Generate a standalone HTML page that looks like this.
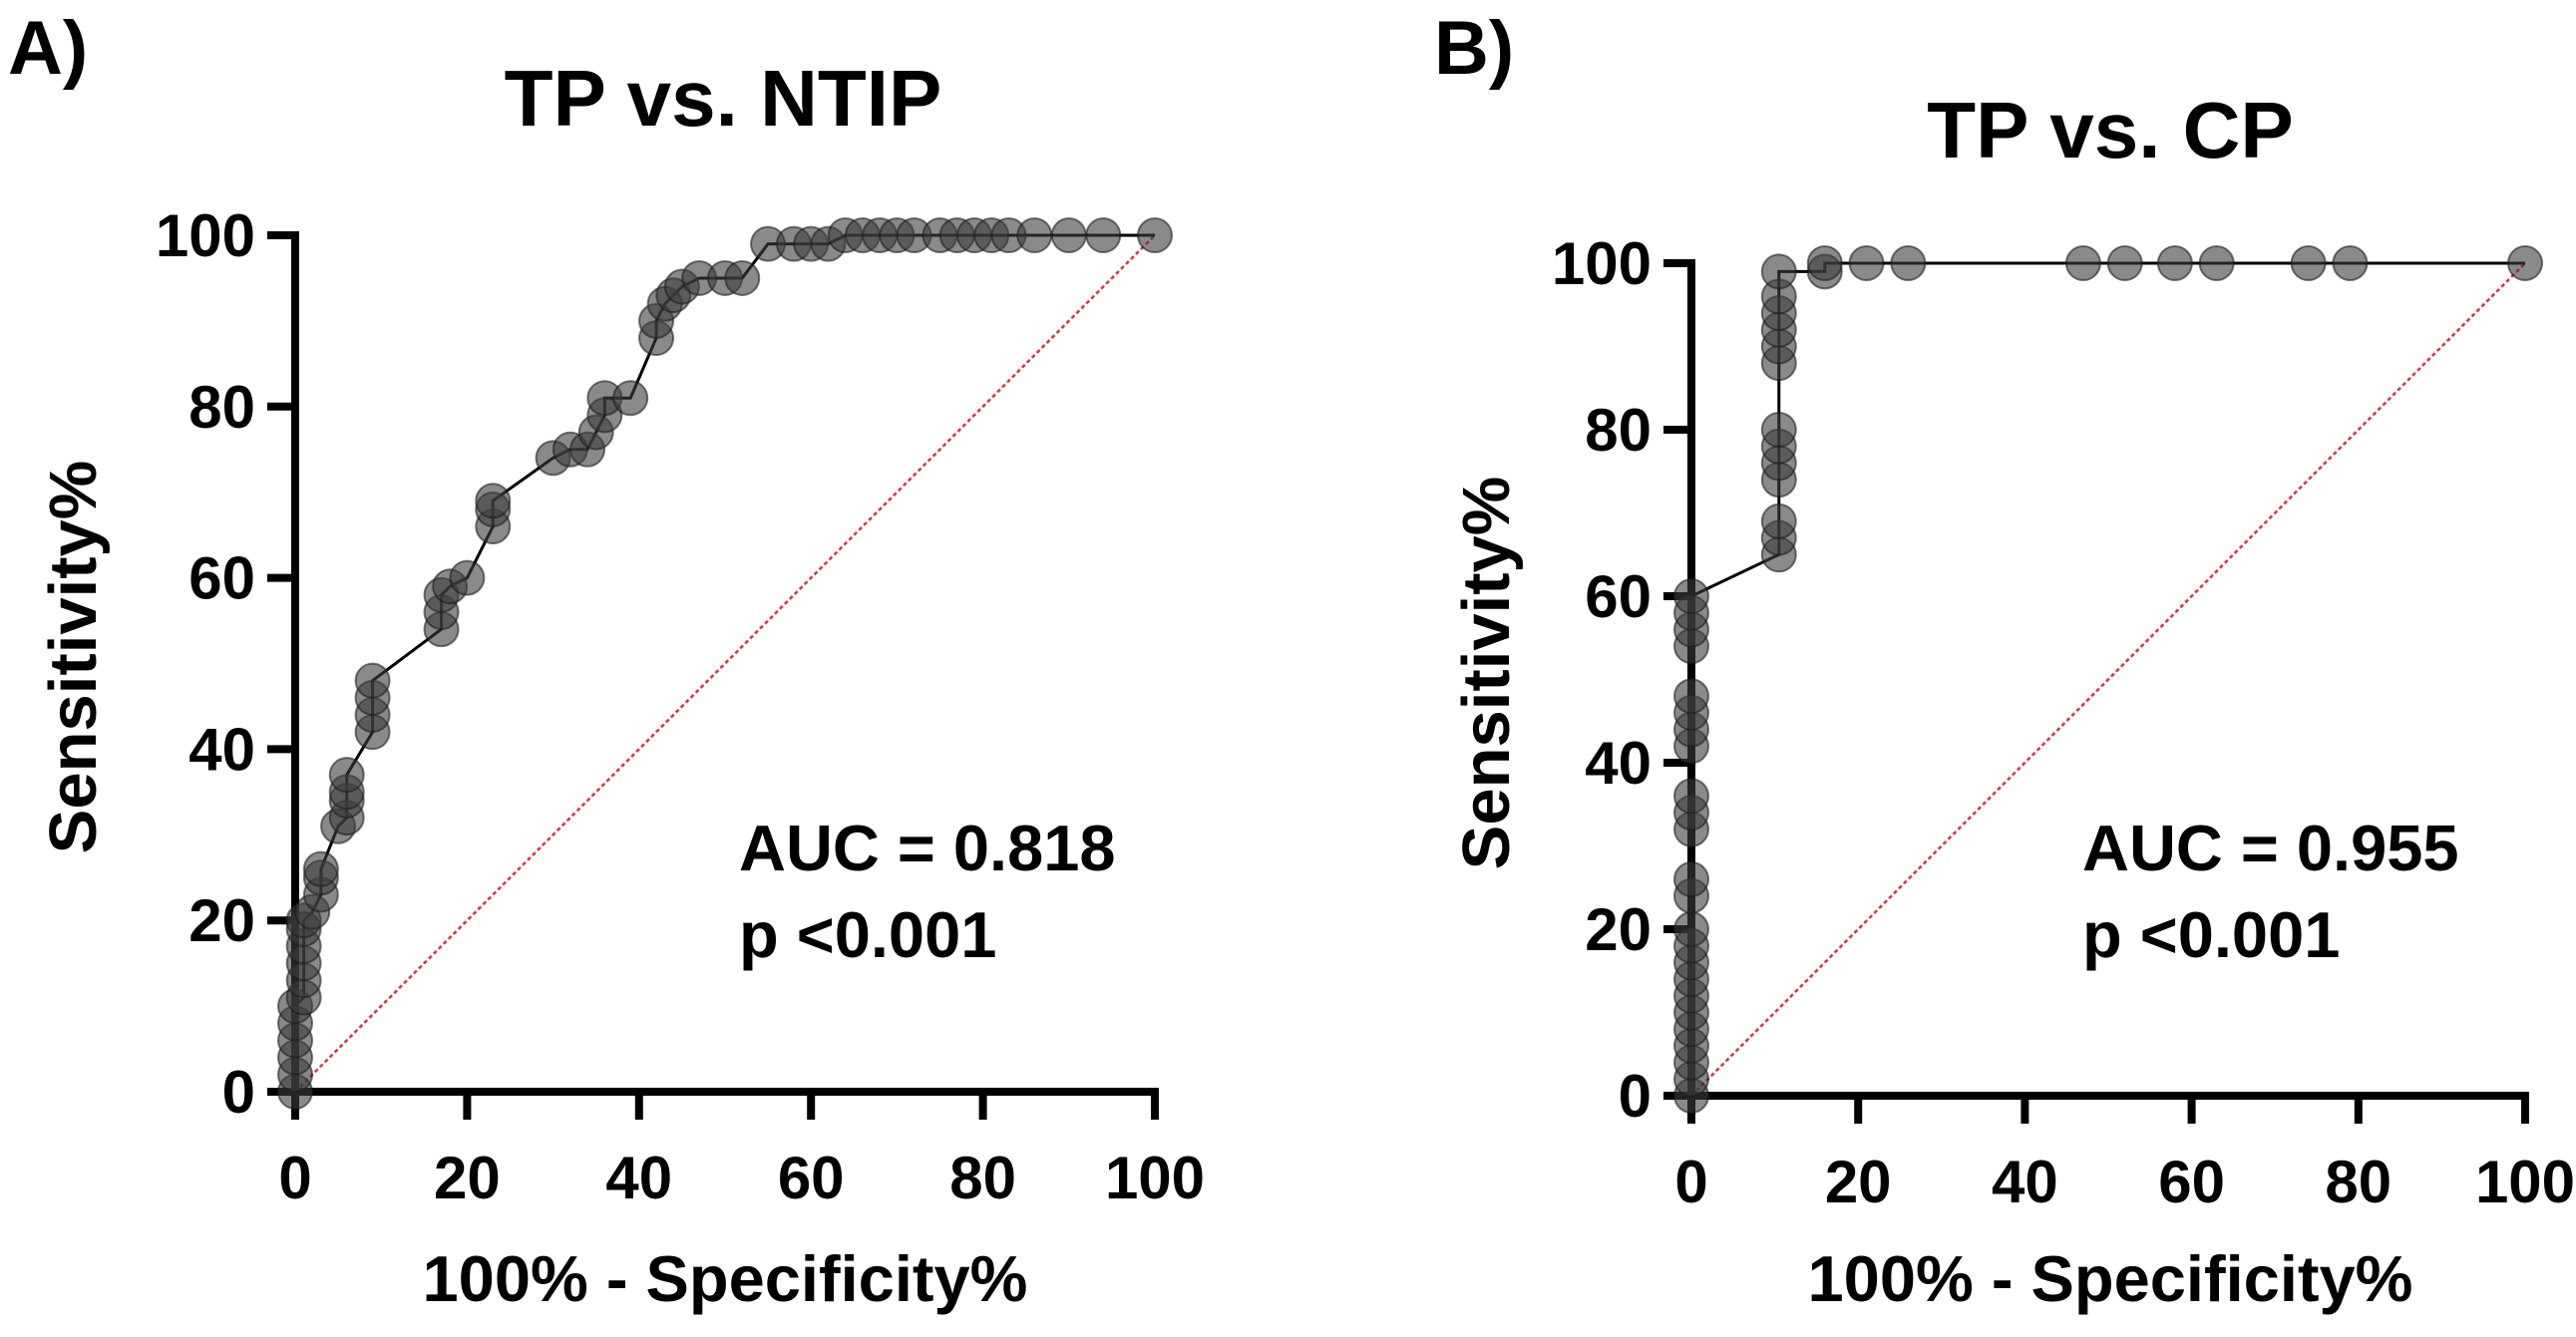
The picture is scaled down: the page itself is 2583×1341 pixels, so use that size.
<!DOCTYPE html>
<html><head><meta charset="utf-8">
<style>
html,body{margin:0;padding:0;background:#fff;}
svg{display:block;font-family:"Liberation Sans",Arial,sans-serif;font-weight:bold;}
</style></head>
<body>
<svg id="fig" width="2583" height="1341" viewBox="0 0 2583 1341" xmlns="http://www.w3.org/2000/svg">
<rect width="2583" height="1341" fill="#fff"/>
</svg>
<script>
const ticks = [0, 20, 40, 60, 80, 100];
const tickLabels = ["0", "20", "40", "60", "80", "100"];
const aX = [0,0,0,0,0,0,1,1,1,1,1,1,2,3,3,3,5,6,6,6,6,9,9,9,9,17,17,17,18,20,23,23,23,30,32,34,35,36,36,39,42,42,43,44,45,47,50,52,55,58,60,62,64,66,68,70,72,75,77,79,81,83,86,90,94,100];
const aY = [0,2,4,6,8,10,11,13,15,17,19,20,21,23,25,26,31,32,34,35,37,42,44,46,48,54,56,58,59,60,66,68,69,74,75,75,77,79,81,81,88,90,92,93,94,95,95,95,99,99,99,99,100,100,100,100,100,100,100,100,100,100,100,100,100,100];
const bX = [0,0,0,0,0,0,0,0,0,0,0,0,0,0,0,0,0,0,0,0,0,0,0,0,10.5,10.5,10.5,10.5,10.5,10.5,10.5,10.5,10.5,10.5,10.5,10.5,10.5,16,16,21,26,47,52,58,63,74,79,100];
const bY = [0,2,4,6,8,10,12,14,16,18,20,24,26,32,34,36,42,44,46,48,54,56,58,60,65,67,69,74,76,78,80,88,90,92,94,96,99,99,100,100,100,100,100,100,100,100,100,100];

const NS = "http://www.w3.org/2000/svg";
const svg = document.getElementById('fig');
function mk(tag, attrs, parent, text){
  const e = document.createElementNS(NS, tag);
  for (const k in attrs) e.setAttribute(k, attrs[k]);
  if (text !== undefined) e.textContent = text;
  (parent || svg).appendChild(e);
  return e;
}

function panel(cfg, xs, ys){
  const g = mk('g', {});
  
  
  const sx = v => cfg.x0 + (cfg.x1 - cfg.x0) * v / 100;
  const sy = v => cfg.y0 + (cfg.y1 - cfg.y0) * v / 100;

  let t = mk('text', {x: cfg.lx, y: 74, 'font-size': 76}, g, cfg.letter);
  
  
  t = mk('text', {x: cfg.tx, y: cfg.ty, 'font-size': 80, 'text-anchor': 'middle'}, g, cfg.title);
  
  

  const d = mk('line', {x1: sx(0), y1: sy(0), x2: sx(100), y2: sy(100), stroke: '#e0303a', 'stroke-width': 2.5, 'stroke-dasharray': '4 3'}, g);
  
  

  const ax = mk('g', {stroke: '#000', 'stroke-width': 8, fill: 'none'}, g);
  
  
  mk('line', {x1: sx(0), y1: sy(0) + 4, x2: sx(0), y2: sy(100) - 4}, ax);
  mk('line', {x1: sx(0) - 4, y1: sy(0), x2: sx(100) + 4, y2: sy(0)}, ax);
  ticks.forEach((v, i) => {
    mk('line', {x1: sx(v), y1: sy(0), x2: sx(v), y2: sy(0) + 28}, ax);
    mk('line', {x1: sx(0), y1: sy(v), x2: sx(0) - 28, y2: sy(v)}, ax);
    let tl = mk('text', {x: sx(v), y: sy(0) + 107, 'font-size': 60, 'text-anchor': 'middle'}, g, tickLabels[i]);
    
    
    tl = mk('text', {x: sx(0) - 40, y: sy(v) + 21, 'font-size': 60, 'text-anchor': 'end'}, g, tickLabels[i]);
    
    
  });

  let pts = xs.map((x, i) => sx(x) + ',' + sy(ys[i])).join(' ');
  const pl = mk('polyline', {points: pts, fill: 'none', stroke: '#000', 'stroke-width': 3}, g);
  
  
  xs.forEach((x, i) => {
    const c = mk('circle', {cx: sx(x), cy: sy(ys[i]), r: 17, fill: 'rgba(60,60,60,0.6)', stroke: 'rgba(30,30,30,0.6)', 'stroke-width': 2}, g);
    
    
  });

  t = mk('text', {x: cfg.xtx, y: 1305, 'font-size': 65, 'text-anchor': 'middle'}, g, '100% - Specificity%');
  
  
  t = mk('text', {x: 0, y: 0, 'font-size': 67, 'text-anchor': 'middle', transform: 'translate(' + cfg.ytx + ',' + cfg.yty + ') rotate(-90)'}, g, 'Sensitivity%');
  
  
  t = mk('text', {x: cfg.aucx, y: 873, 'font-size': 65}, g, cfg.auc);
  
  
  t = mk('text', {x: cfg.aucx, y: 960, 'font-size': 65}, g, 'p <0.001');
  
  
}

panel({id:'a', letter:'A)', lx:8, title:'TP vs. NTIP', tx:725, ty:126, x0:296, x1:1158, y0:1095, y1:236,
  xtx:727, ytx:96, yty:659, aucx:741, auc:'AUC = 0.818'}, aX, aY);
panel({id:'b', letter:'B)', lx:1438, title:'TP vs. CP', tx:2116, ty:158, x0:1696, x1:2532, y0:1099, y1:264,
  xtx:2116, ytx:1513, yty:675, aucx:2088, auc:'AUC = 0.955'}, bX, bY);
</script>
</body></html>
